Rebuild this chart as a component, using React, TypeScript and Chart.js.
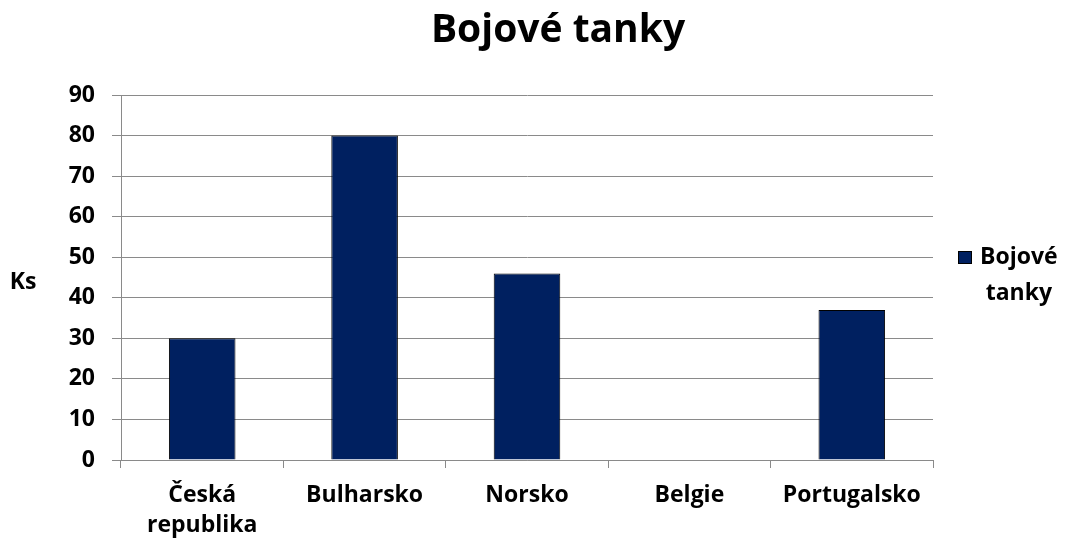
import React, { useEffect, useRef } from 'react';
import { Chart, registerables } from 'chart.js';

Chart.register(...registerables);

const chartTitle = 'Bojové tanky';
const categories: (string | string[])[] = [['Česká', 'republika'], 'Bulharsko', 'Norsko', 'Belgie', 'Portugalsko'];
const seriesName = 'Bojové tanky';
const seriesValues = [30, 80, 46, 0, 37];
const yMin = 0;
const yMax = 90;
const yStep = 10;
const yAxisTitle = 'Ks';
const legendLines = ['Bojové', 'tanky'];

const FONT = '"Open Sans", sans-serif';
const BAR = '#002060';
const GRID = '#8a8a8a';

const extrasPlugin = {
  id: 'extras',
  afterDraw(chart: any) {
    const { ctx, chartArea } = chart;
    ctx.save();
    ctx.fillStyle = '#000';
    // title
    ctx.font = `bold 39px ${FONT}`;
    ctx.textAlign = 'center';
    ctx.textBaseline = 'middle';
    ctx.fillText(chartTitle, 558, 31);

    ctx.font = `bold 23px ${FONT}`;
    ctx.fillText(yAxisTitle, 23, (chartArea.top + chartArea.bottom) / 2 + 5);

    // legend
    const bx = 958;
    const by = 251;
    ctx.fillStyle = BAR;
    ctx.fillRect(bx, by, 14, 13);
    ctx.strokeStyle = '#000';
    ctx.lineWidth = 1;
    ctx.strokeRect(bx + 0.5, by + 0.5, 13, 12);
    ctx.fillStyle = '#000';
    ctx.textAlign = 'left';
    ctx.textBaseline = 'middle';
    ctx.fillText(legendLines[0], 980, 257);
    const w0 = ctx.measureText(legendLines[0]).width;
    const w1 = ctx.measureText(legendLines[1]).width;
    ctx.fillText(legendLines[1], 980 + (w0 - w1) / 2, 293);
    ctx.restore();
  },
};

export default function App() {
  const ref = useRef<HTMLCanvasElement>(null);
  useEffect(() => {
    if (!ref.current) return;
    const chart = new Chart(ref.current, {
      type: 'bar',
      data: {
        labels: categories,
        datasets: [
          {
            label: seriesName,
            data: seriesValues,
            backgroundColor: BAR,
            borderColor: '#000',
            borderWidth: (c: any) => (c.raw === 0 ? 0 : 1),
            borderSkipped: 'start',
            categoryPercentage: 1,
            barPercentage: 0.41,
          },
        ],
      },
      options: {
        responsive: true,
        maintainAspectRatio: false,
        animation: false,
        layout: { padding: { left: 0, right: 134, top: 95, bottom: 0 } },
        plugins: {
          legend: { display: false },
          tooltip: { enabled: false },
          title: { display: false },
        },
        scales: {
          x: {
            offset: true,
            grid: {
              offset: true,
              drawOnChartArea: false,
              drawTicks: true,
              tickLength: 8,
              color: GRID,
            },
            border: { display: true, color: GRID },
            ticks: {
              color: '#000',
              font: { family: FONT, size: 23, weight: 'bold', lineHeight: 1.3 },
              padding: 13,
              maxRotation: 0,
              autoSkip: false,
            },
            afterFit: (s: any) => {
              s.height = 82;
            },
          },
          y: {
            min: yMin,
            max: yMax,
            grid: { color: GRID, tickLength: 9, drawTicks: true },
            border: { display: true, color: GRID },
            ticks: {
              stepSize: yStep,
              color: '#000',
              font: { family: FONT, size: 23, weight: 'bold' },
              padding: 17,
            },
            afterFit: (s: any) => {
              s.width = 121;
            },
          },
        },
      },
      plugins: [extrasPlugin],
    });
    return () => chart.destroy();
  }, []);
  return (
    <div style={{ position: 'absolute', left: 0, top: 0, width: 1067, height: 542, background: '#fff' }}>
      <canvas ref={ref} />
    </div>
  );
}
